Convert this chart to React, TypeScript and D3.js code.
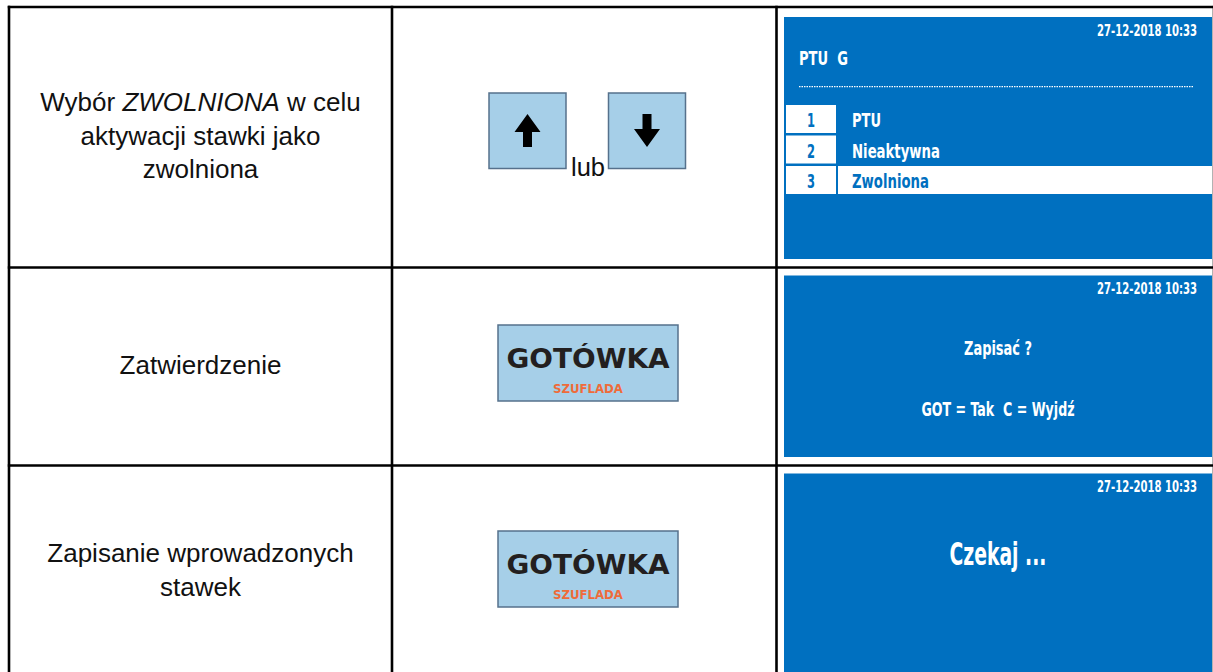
import { useLayoutEffect, useRef, useState } from 'react';
import * as d3 from 'd3';

// step descriptions (segments wrapped in * are italic)
const stepLines = [
  ['Wybór *ZWOLNIONA* w celu', 'aktywacji stawki jako', 'zwolniona'],
  ['Zatwierdzenie'],
  ['Zapisanie wprowadzonych', 'stawek'],
];

const screenDate = '27-12-2018 10:33';
const menuTitle = 'PTU  G';
const menuNumbers = ['1', '2', '3'];
const menuItems = ['PTU', 'Nieaktywna', 'Zwolniona'];
const selectedItem = 2;
const confirmLines = ['Zapisać ?', 'GOT = Tak  C = Wyjdź'];
const waitText = 'Czekaj ...';
const arrowKeys = ['up', 'down'];
const keyOr = 'lub';
const cashKey = 'GOTÓWKA';
const cashSub = 'SZUFLADA';

const W = 1213;
const H = 672;
const colEdges = [9, 392, 776.5, 1214];
const rowEdges = [7, 267.5, 465.5, 690];

const BLUE = '#0070c0';
const KEY_FILL = '#a6cfe8';
const KEY_STROKE = '#56718c';
const SCREEN_FONT = "'DejaVu Sans Condensed', 'DejaVu Sans', sans-serif";
const TEXT_FONT = "'Liberation Sans', Arial, sans-serif";

// text squeezed horizontally to a given width (the screen font is condensed)
function FitText({ x, y, width, anchor = 'start', size, fill, family = SCREEN_FONT, children }:
  { x: number; y: number; width: number; anchor?: string; size: number; fill: string; family?: string; children: string }) {
  const ref = useRef<SVGTextElement>(null);
  const [sx, setSx] = useState(0.8);
  useLayoutEffect(() => {
    if (!ref.current) return;
    const w = ref.current.getComputedTextLength();
    if (w > 0) setSx(width / w);
  }, [width, children, size]);
  return (
    <g transform={`translate(${x},${y}) scale(${sx},1)`}>
      <text ref={ref} x={0} y={0} textAnchor={anchor} fontFamily={family} fontWeight="bold"
        fontSize={size} fill={fill} style={{ whiteSpace: 'pre' }}>{children}</text>
    </g>
  );
}

function Description({ lines, baseline }: { lines: string[]; baseline: number }) {
  const cx = (colEdges[0] + colEdges[1]) / 2;
  return (
    <g>
      {lines.map((line, i) => (
        <text key={i} x={cx} y={baseline + i * 33.5} textAnchor="middle"
          fontFamily={TEXT_FONT} fontSize={26} fill="#111">
          {line.split('*').map((seg, j) => (
            <tspan key={j} fontStyle={j % 2 ? 'italic' : 'normal'}>{seg}</tspan>
          ))}
        </text>
      ))}
    </g>
  );
}

function CashKey({ x, y }: { x: number; y: number }) {
  return (
    <g transform={`translate(${x},${y})`}>
      <rect x={0} y={0} width={180} height={76} fill={KEY_FILL} stroke={KEY_STROKE} strokeWidth={1.5} />
      <FitText x={90} y={42.5} width={163} anchor="middle" size={26} fill="#231f20"
        family="'DejaVu Sans', sans-serif">{cashKey}</FitText>
      <FitText x={90} y={68} width={70} anchor="middle" size={13} fill="#ef6b3a">{cashSub}</FitText>
    </g>
  );
}

function arrowPath(cx: number, dir: string) {
  const top = 114, bottom = 147, headH = 18, headW = 13, shaft = 4.5;
  const pts = dir === 'up'
    ? [[cx, top], [cx + headW, top + headH], [cx + shaft, top + headH], [cx + shaft, bottom], [cx - shaft, bottom], [cx - shaft, top + headH], [cx - headW, top + headH]]
    : [[cx, bottom], [cx + headW, bottom - headH], [cx + shaft, bottom - headH], [cx + shaft, top], [cx - shaft, top], [cx - shaft, bottom - headH], [cx - headW, bottom - headH]];
  return d3.line()(pts as [number, number][]) + 'Z';
}

function DateLine({ top }: { top: number }) {
  return (
    <FitText x={1197} y={top + 18.5} width={100} anchor="end" size={15} fill="#fff">{screenDate}</FitText>
  );
}

export default function App() {
  const panelX0 = 784;
  const panelX1 = 1212;
  const panelCx = (panelX0 + panelX1) / 2;
  const panels = [
    [17, 259],
    [275.5, 457],
    [473.5, 690],
  ];

  const menuY = d3.scaleBand<string>()
    .domain(menuNumbers)
    .range([105, 194])
    .paddingInner(0.082)
    .paddingOuter(0);

  const keyX = d3.scalePoint<string>().domain(arrowKeys).range([527.5, 647]);
  const labelWidths = [29, 88, 77];

  return (
    <svg width={W} height={H} style={{ position: 'absolute', left: 0, top: 0, background: '#fff' }}>
      {/* screens */}
      {panels.map(([y0, y1], i) => (
        <rect key={i} x={panelX0} y={y0} width={panelX1 - panelX0} height={y1 - y0} fill={BLUE} />
      ))}

      {/* screen 1 - menu */}
      <DateLine top={panels[0][0]} />
      <FitText x={799} y={65} width={49} size={19.5} fill="#fff">{menuTitle}</FitText>
      <line x1={799} x2={1194} y1={86.7} y2={86.7} stroke="#fff" strokeWidth={1.2} strokeDasharray="1.5,1" />
      {menuNumbers.map((n, i) => {
        const y = menuY(n) as number;
        const bh = menuY.bandwidth();
        const sel = i === selectedItem;
        return (
          <g key={n}>
            <rect x={786} y={y} width={50} height={bh} fill="#fff" />
            {sel && <rect x={838} y={y} width={panelX1 - 838} height={bh} fill="#fff" />}
            <FitText x={811} y={y + 22} width={8} anchor="middle" size={19.5} fill={BLUE}>{n}</FitText>
            <FitText x={852} y={y + 22} width={labelWidths[i]} size={19.5}
              fill={sel ? BLUE : '#fff'}>{menuItems[i]}</FitText>
          </g>
        );
      })}

      {/* screen 2 - confirm */}
      <DateLine top={panels[1][0]} />
      <FitText x={panelCx} y={355} width={68} anchor="middle" size={19.5} fill="#fff">{confirmLines[0]}</FitText>
      <FitText x={panelCx} y={416} width={153} anchor="middle" size={19.5} fill="#fff">{confirmLines[1]}</FitText>

      {/* screen 3 - wait */}
      <DateLine top={panels[2][0]} />
      <FitText x={panelCx} y={565} width={97} anchor="middle" size={32} fill="#fff">{waitText}</FitText>

      {/* keys */}
      {arrowKeys.map((k) => {
        const cx = keyX(k) as number;
        return (
          <g key={k}>
            <rect x={cx - 38.5} y={93} width={77} height={75.5} fill={KEY_FILL} stroke={KEY_STROKE} strokeWidth={1.5} />
            <path d={arrowPath(cx, k)} fill="#000" />
          </g>
        );
      })}
      <text x={588} y={176} textAnchor="middle" fontFamily={TEXT_FONT} fontSize={25.5} fill="#111">{keyOr}</text>
      <CashKey x={498} y={325} />
      <CashKey x={498} y={531} />

      {/* descriptions */}
      <Description lines={stepLines[0]} baseline={111} />
      <Description lines={stepLines[1]} baseline={374} />
      <Description lines={stepLines[2]} baseline={562} />

      {/* table grid */}
      {colEdges.map((x, i) => (
        <line key={'c' + i} x1={x} x2={x} y1={rowEdges[0] - 1.2} y2={H + 10} stroke="#000" strokeWidth={2.6} />
      ))}
      {rowEdges.map((y, i) => (
        <line key={'r' + i} x1={colEdges[0] - 1.2} x2={W + 10} y1={y} y2={y} stroke="#000" strokeWidth={2.6} />
      ))}
    </svg>
  );
}
